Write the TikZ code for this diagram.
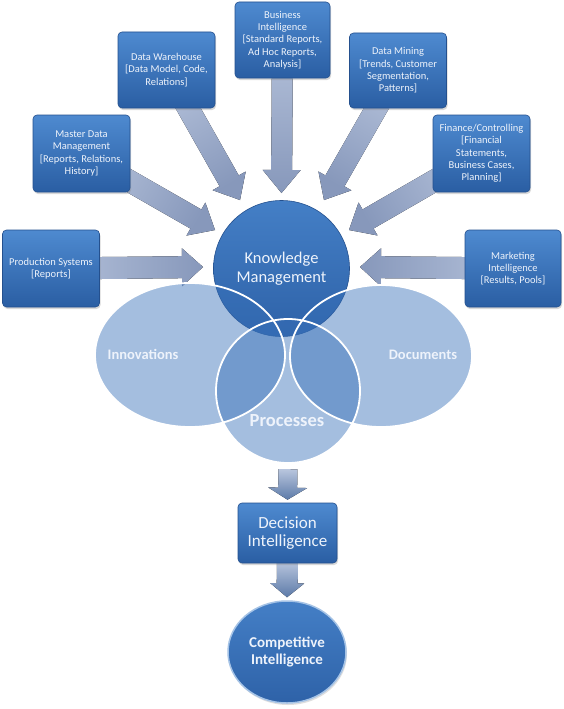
\documentclass[tikz,border=0pt]{standalone}
\usepackage{fontspec}
\setmainfont{Carlito}
\usetikzlibrary{calc,shadows,shapes.geometric}
\pgfdeclarelayer{back}
\pgfsetlayers{back,main}

\definecolor{boxtop}{RGB}{78,138,208}
\definecolor{boxbot}{RGB}{42,94,163}
\definecolor{boxline}{RGB}{36,80,142}
\definecolor{arrL}{RGB}{180,193,218}
\definecolor{arrM}{RGB}{226,232,243}
\definecolor{arrR}{RGB}{135,152,187}
\definecolor{venn}{RGB}{55,112,185}
\definecolor{kmtop}{RGB}{68,127,198}
\definecolor{kmbot}{RGB}{46,98,168}
\definecolor{txt}{RGB}{238,243,251}
\definecolor{dtop}{RGB}{185,198,222}
\definecolor{dbot}{RGB}{92,122,168}
\definecolor{rim}{RGB}{165,195,230}

% #1 style, #2 tail, #3 tip, #4 shaft half width, #5 head half width, #6 head length
\newcommand\blockarrow[6]{%
  \coordinate (bahead) at ($(#3)!#6!(#2)$);
  \fill[#1] ($(#2)!#4!90:(#3)$) -- ($(bahead)!#4!90:(#3)$) -- ($(bahead)!#5!90:(#3)$) -- (#3)
     -- ($(bahead)!#5!-90:(#3)$) -- ($(bahead)!#4!-90:(#3)$) -- ($(#2)!#4!-90:(#3)$) -- cycle;
}

\begin{document}
\begin{tikzpicture}[x=1pt,y=-1pt,
  srcbox/.style={draw=boxline, line width=0.6pt, rounded corners=4pt,
     top color=boxtop, bottom color=boxbot, text=txt, align=center,
     font=\fontsize{10.5}{12.3}\selectfont, inner sep=0pt,
     drop shadow={shadow xshift=1pt, shadow yshift=-2pt, opacity=0.3},
     minimum width=97pt, minimum height=77pt},
  grayarrow/.style={left color=arrL, middle color=arrM, right color=arrR},
  downarrow/.style={top color=dtop, bottom color=dbot},
  vennfill/.style={fill=venn, fill opacity=0.45, draw=none, ellipse, inner sep=0pt},
  vennline/.style={draw=white, line width=1.8pt},
  venntext/.style={text=txt, font=\bfseries\fontsize{14.5}{17}\selectfont},
]
\useasboundingbox (0,0) rectangle (564,709);
\begin{pgfonlayer}{back}
\fill[white] (0,0) rectangle (564,709);
\end{pgfonlayer}

% source boxes
\node[srcbox] (pd) at (51,268.5) {Production Systems\\{}[Reports]};
\node[srcbox] (md) at (81.5,153.5) {Master Data\\Management\\{}[Reports, Relations,\\History]};
\node[srcbox, minimum height=76pt] (dw) at (166.5,70) {Data Warehouse\\{}[Data Model, Code,\\Relations]};
\node[srcbox, minimum width=95pt, minimum height=76pt] (bi) at (282.5,40) {Business\\Intelligence\\{}[Standard Reports,\\Ad Hoc Reports,\\Analysis]};
\node[srcbox, minimum height=75pt] (dm) at (398,70.5) {Data Mining\\{}[Trends, Customer\\Segmentation,\\Patterns]};
\node[srcbox] (fc) at (481.5,153.5) {Finance/Controlling\\{}[Financial\\Statements,\\Business Cases,\\Planning]};
\node[srcbox, minimum width=96pt] (mi) at (513,268.5) {Marketing\\Intelligence\\{}[Results, Pools]};

% knowledge management
\node[circle, minimum size=136pt, inner sep=0pt, top color=kmtop, bottom color=kmbot,
      draw=boxline, line width=0.6pt, text=txt, align=center,
      font=\fontsize{16.5}{19.5}\selectfont] (km) at (281.5,268.5) {Knowledge\\Management};

% arrow tips
\coordinate (tpd) at (203,267);
\coordinate (tmd) at (215,230);
\coordinate (tdw) at (240,200);
\coordinate (tbi) at (281.5,193);
\coordinate (tdm) at (324,200);
\coordinate (tfc) at (349,230);
\coordinate (tmi) at (360,267);

\begin{pgfonlayer}{back}
\blockarrow{grayarrow, shading angle=90}{pd.center}{tpd}{11pt}{19pt}{21pt}
\blockarrow{grayarrow, shading angle=60}{md.center}{tmd}{11pt}{19pt}{22pt}
\blockarrow{grayarrow, shading angle=30}{dw.center}{tdw}{11pt}{19pt}{22pt}
\blockarrow{grayarrow, shading angle=0}{bi.center}{tbi}{10.5pt}{19pt}{23pt}
\blockarrow{grayarrow, shading angle=-30}{dm.center}{tdm}{11pt}{19pt}{22pt}
\blockarrow{grayarrow, shading angle=-60}{fc.center}{tfc}{11pt}{19pt}{22pt}
\blockarrow{grayarrow, shading angle=-90}{mi.center}{tmi}{11pt}{19pt}{21pt}
\end{pgfonlayer}

% Venn ellipses
\node[vennfill, minimum width=190pt, minimum height=144pt] (inn) at (190,355) {};
\node[vennfill, minimum width=182pt, minimum height=142pt] (doc) at (381,356) {};
\node[vennfill, minimum width=144pt, minimum height=144pt] (proc) at (288,391) {};
\draw[vennline] (inn.center) ellipse [x radius=95pt, y radius=72pt];
\draw[vennline] (doc.center) ellipse [x radius=91pt, y radius=71pt];
\draw[vennline] (proc.center) ellipse [x radius=72pt, y radius=72pt];
\node[venntext] (innl) at (143,354) {Innovations};
\node[venntext] (docl) at (423,355) {Documents};
\node[venntext, font=\bfseries\fontsize{18.5}{20}\selectfont] (procl) at (287,421) {Processes};

% decision and competitive intelligence
\node[srcbox, minimum width=99pt, minimum height=60pt, font=\fontsize{17}{18.5}\selectfont] (dec) at (287.5,533) {Decision\\Intelligence};
\node[ellipse, minimum width=118pt, minimum height=102pt, inner sep=0pt,
      top color=kmtop, bottom color=kmbot, draw=rim, line width=1.5pt,
      text=txt, align=center, font=\bfseries\fontsize{15}{17}\selectfont,
      drop shadow={shadow xshift=1pt, shadow yshift=-2pt, opacity=0.25}] (ci) at (287,652) {Competitive\\Intelligence};

\coordinate (a1s) at ($(proc.south)+(0,6)$);
\coordinate (a1e) at ($(dec.north)+(0,-3)$);
\coordinate (a2s) at ($(dec.south)+(0,-2)$);
\coordinate (a2e) at ($(ci.north)+(0,-3)$);
\begin{pgfonlayer}{back}
\blockarrow{downarrow}{a1s}{a1e}{9.5pt}{19.5pt}{12pt}
\blockarrow{downarrow}{a2s}{a2e}{10.5pt}{17pt}{14pt}
\end{pgfonlayer}
\end{tikzpicture}
\end{document}
